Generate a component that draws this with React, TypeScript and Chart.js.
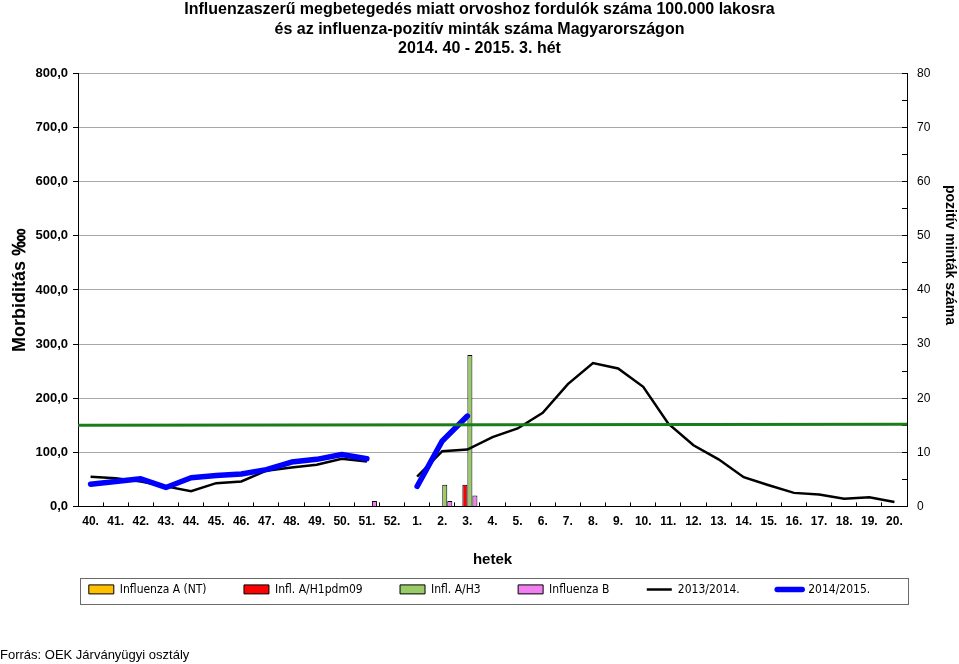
import React, { useEffect, useRef } from 'react';
import { Chart, registerables } from 'chart.js';

Chart.register(...registerables);

const weeks = [
  '40.', '41.', '42.', '43.', '44.', '45.', '46.', '47.', '48.', '49.', '50.', '51.', '52.',
  '1.', '2.', '3.', '4.', '5.', '6.', '7.', '8.', '9.', '10.', '11.', '12.', '13.', '14.',
  '15.', '16.', '17.', '18.', '19.', '20.',
];

const morbidity2013_14 = [
  55, 52, 46, 37, 28, 43, 46, 66, 72, 77, 88, 83, null,
  55, 102, 105, 128, 144, 173, 226, 265, 255, 221, 153, 113, 87, 54,
  39, 25, 22, 14, 17, 8,
];

const morbidity2014_15 = [
  41, 46, 51, 35, 53, 57, 60, 68, 82, 87, 96, 88, null,
  37, 121, 167, null, null, null, null, null, null, null, null, null, null, null,
  null, null, null, null, null, null,
];

const influenzaA_NT = [
  null, null, null, null, null, null, null, null, null, null, null, null, null,
  null, null, null, null, null, null, null, null, null, null, null, null, null, null,
  null, null, null, null, null, null,
];

const inflA_H1pdm09 = [
  null, null, null, null, null, null, null, null, null, null, null, null, null,
  null, null, 4, null, null, null, null, null, null, null, null, null, null, null,
  null, null, null, null, null, null,
];

const inflA_H3 = [
  null, null, null, null, null, null, null, null, null, null, null, null, null,
  null, 4, 28, null, null, null, null, null, null, null, null, null, null, null,
  null, null, null, null, null, null,
];

const influenzaB = [
  null, null, null, null, null, null, null, null, null, null, null, 1, null,
  null, 1, 2, null, null, null, null, null, null, null, null, null, null, null,
  null, null, null, null, null, null,
];

// epidemic threshold, at the left and right edge of the plot
const thresholdLevels = [150, 152];

const titleLines = [
  'Influenzaszerű megbetegedés miatt orvoshoz fordulók száma 100.000 lakosra',
  'és az influenza-pozitív minták száma Magyarországon',
  '2014. 40 - 2015. 3. hét',
];

const FONT = "'Liberation Sans', Arial, sans-serif";
const NARROW = "'Liberation Sans Narrow', 'DejaVu Sans Condensed', 'Liberation Sans', sans-serif";

const toPoints = (vals: (number | null)[]) => vals.map((v, i) => ({ x: i, y: v }));

const legendBorder = {
  id: 'legendBorder',
  afterDraw(chart: any) {
    const lg = chart.legend;
    const ca = chart.chartArea;
    if (!lg || !ca) return;
    const ctx = chart.ctx;
    ctx.save();
    ctx.strokeStyle = '#6a6a6a';
    ctx.lineWidth = 1;
    ctx.strokeRect(Math.round(ca.left) + 2.5, Math.round(lg.top) + 0.5, Math.round(ca.right - ca.left) - 1, Math.round(lg.height) - 1);
    ctx.restore();
  },
};

export default function App() {
  const ref = useRef<HTMLCanvasElement>(null);

  useEffect(() => {
    if (!ref.current) return;
    Chart.defaults.font.family = FONT;
    Chart.defaults.color = '#000';
    const lastIndex = weeks.length - 1;

    const chart = new Chart(ref.current, {
      type: 'bar',
      data: {
        labels: weeks,
        datasets: [
          { type: 'bar', label: 'Influenza A (NT)', data: toPoints(influenzaA_NT), backgroundColor: '#ffc000', borderColor: '#000', borderWidth: 1, xAxisID: 'x', yAxisID: 'y1', order: 0 },
          { type: 'bar', label: 'Infl. A/H1pdm09', data: toPoints(inflA_H1pdm09), backgroundColor: '#ff0000', borderColor: '#000', borderWidth: 1, xAxisID: 'x', yAxisID: 'y1', order: 0 },
          { type: 'bar', label: 'Infl. A/H3', data: toPoints(inflA_H3), backgroundColor: '#99cc66', borderColor: '#000', borderWidth: 1, xAxisID: 'x', yAxisID: 'y1', order: 0 },
          { type: 'bar', label: 'Influenza B', data: toPoints(influenzaB), backgroundColor: '#f080f0', borderColor: '#000', borderWidth: 1, xAxisID: 'x', yAxisID: 'y1', order: 0 },
          { type: 'line', label: '2013/2014.', data: toPoints(morbidity2013_14), borderColor: '#000', backgroundColor: '#000', borderWidth: 2.5, pointRadius: 0, tension: 0, spanGaps: false, xAxisID: 'x', yAxisID: 'y', order: -1 },
          { type: 'line', label: '2014/2015.', data: toPoints(morbidity2014_15), borderColor: '#0000ff', backgroundColor: '#0000ff', borderWidth: 5.5, borderCapStyle: 'round', borderJoinStyle: 'round', pointRadius: 0, tension: 0, spanGaps: false, xAxisID: 'x', yAxisID: 'y', order: -2 },
          { type: 'line', label: 'küszöb', data: [{ x: -0.5, y: thresholdLevels[0] }, { x: lastIndex + 0.5, y: thresholdLevels[1] }], borderColor: '#1a7d1a', borderWidth: 3, pointRadius: 0, tension: 0, xAxisID: 'x', yAxisID: 'y', order: -3 },
        ] as any,
      },
      options: {
        responsive: false,
        animation: false,
        layout: { padding: { left: 0, right: 0, top: 0, bottom: 0 } },
        plugins: {
          tooltip: { enabled: false },
          title: {
            display: true,
            text: titleLines,
            color: '#000',
            font: { family: FONT, size: 16, weight: 'bold', lineHeight: 1.22 },
            padding: { top: 0, bottom: 15 },
          },
          subtitle: {
            display: true,
            position: 'bottom',
            align: 'start',
            text: 'Forrás: OEK Járványügyi osztály',
            color: '#000',
            font: { family: FONT, size: 13, weight: 'normal', lineHeight: 1.2 },
            padding: { top: 42, bottom: 1 },
          },
          legend: {
            display: true,
            position: 'bottom',
            labels: {
              color: '#000',
              font: { family: NARROW, size: 12 },
              usePointStyle: true,
              pointStyleWidth: 25,
              boxWidth: 25,
              boxHeight: 9,
              padding: 5,
              generateLabels(chart: any) {
                const items = (Chart.defaults.plugins.legend.labels as any).generateLabels(chart);
                return items
                  .filter((it: any) => it.datasetIndex < 6)
                  .sort((a: any, b: any) => a.datasetIndex - b.datasetIndex)
                  .map((it: any) => {
                    const ds: any = chart.data.datasets[it.datasetIndex];
                    const isLine = ds.type === 'line';
                    return {
                      ...it,
                      text: it.datasetIndex < 5 ? it.text + '\u2003\u2003\u2003' : it.text,
                      pointStyle: isLine ? 'line' : 'rect',
                      fillStyle: ds.backgroundColor,
                      strokeStyle: isLine ? ds.borderColor : '#000',
                      lineWidth: isLine ? ds.borderWidth : 1,
                      lineCap: isLine && it.datasetIndex === 5 ? 'round' : 'butt',
                      fontColor: '#000',
                    };
                  });
              },
            },
          },
        },
        scales: {
          x: {
            type: 'linear',
            display: false,
            min: -0.5,
            max: lastIndex + 0.5,
            offset: false,
            ticks: { count: 2 },
          },
          xc: {
            type: 'category',
            axis: 'x',
            position: 'bottom',
            offset: true,
            grid: { offset: true, drawOnChartArea: false, tickLength: -4, color: '#000' },
            border: { color: '#000', width: 1 },
            ticks: { color: '#000', font: { family: FONT, size: 12, weight: 'bold' }, padding: 12, autoSkip: false, maxRotation: 0 },
            title: { display: true, text: 'hetek', color: '#000', font: { family: FONT, size: 15, weight: 'bold' }, padding: { top: 0, bottom: 10 } },
            afterFit(scale: any) { scale.height = 72; },
          },
          y: {
            type: 'linear',
            position: 'left',
            min: 0,
            max: 800,
            ticks: {
              stepSize: 100,
              color: '#000',
              font: { family: FONT, size: 13, weight: 'bold' },
              padding: 5,
              callback: (v: any) => Number(v).toFixed(1).replace('.', ','),
            },
            grid: { color: '#a8a8a8', tickColor: '#000', tickLength: 5, lineWidth: 1 },
            border: { color: '#000', width: 1 },
            title: { display: true, text: 'Morbiditás ‱', color: '#000', font: { family: FONT, size: 18, weight: 'bold' }, padding: { top: 9, bottom: 0 } },
            afterFit(scale: any) { scale.width = 78; },
          },
          y1: {
            type: 'linear',
            position: 'right',
            min: 0,
            max: 80,
            ticks: {
              stepSize: 5,
              color: '#000',
              font: { family: FONT, size: 12 },
              padding: 15,
              callback: (v: any) => (Number(v) % 10 === 0 ? String(v) : ''),
            },
            grid: { drawOnChartArea: false, tickColor: '#000', tickLength: -5 },
            border: { color: '#000', width: 1 },
            title: {
              display: true,
              text: 'pozitív minták száma\u2003\u2003\u2003\u2003\u2003',
              color: '#000',
              font: { family: FONT, size: 14, weight: 'bold' },
              padding: { top: 1, bottom: 0 },
            },
            afterFit(scale: any) { scale.width = 52; },
          },
        },
        datasets: {
          bar: { categoryPercentage: 0.8, barPercentage: 1.0 },
        },
      } as any,
      plugins: [legendBorder],
    });

    return () => chart.destroy();
  }, []);

  return (
    <div style={{ position: 'fixed', left: 0, top: 0, width: 959, height: 664, background: '#fff' }}>
      <canvas ref={ref} width={959} height={664} style={{ display: 'block' }} />
    </div>
  );
}
